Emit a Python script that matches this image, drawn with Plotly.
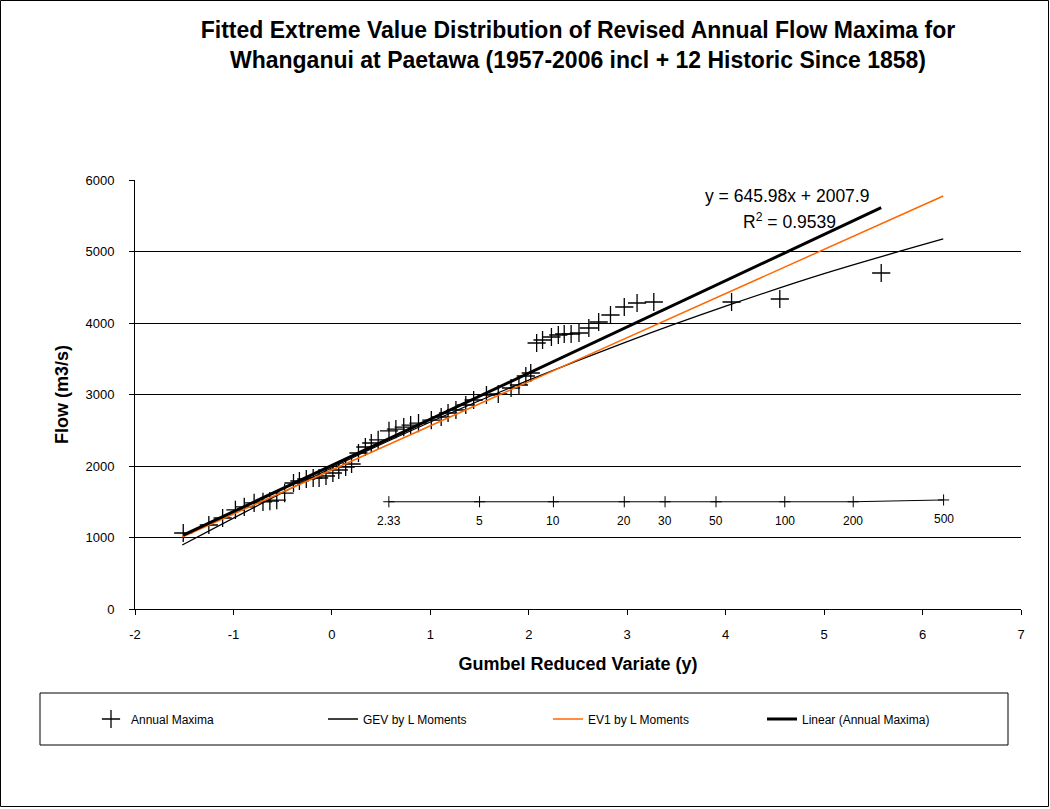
import math
import plotly.graph_objects as go

# ---- Data ----
# Annual maxima: Gumbel reduced variate and flow (m3/s)
maxima_y = [-1.51, -1.25, -1.11, -0.98, -0.89, -0.79, -0.70, -0.63, -0.56, -0.48,
            -0.39, -0.33, -0.26, -0.19, -0.13, -0.06, 0.01, 0.07, 0.14, 0.20,
            0.27, 0.34, 0.40, 0.47, 0.58, 0.65, 0.73, 0.80, 0.88, 1.01,
            1.11, 1.18, 1.26, 1.36, 1.44, 1.57, 1.69, 1.82, 1.90, 1.97,
            2.02, 2.08, 2.14, 2.23, 2.30, 2.36, 2.43, 2.51, 2.61, 2.71,
            2.83, 2.97, 3.10, 3.27, 4.06, 4.55, 5.58]
maxima_q = [1063, 1175, 1273, 1385, 1427, 1483, 1497, 1510, 1524, 1622,
            1762, 1790, 1818, 1832, 1832, 1860, 1902, 1944, 1986, 2028,
            2182, 2266, 2322, 2364, 2490, 2517, 2545, 2573, 2601, 2643,
            2685, 2741, 2783, 2853, 2923, 2993, 3007, 3091, 3133, 3259,
            3301, 3720, 3762, 3804, 3832, 3846, 3846, 3860, 3930, 4014,
            4112, 4224, 4280, 4294, 4294, 4336, 4699]

# GEV by L Moments (curve)
gev_y = [-1.52, 0.0, 1.0, 2.0, 3.0, 4.0, 5.0, 6.21]
gev_q = [895, 1975, 2615, 3200, 3740, 4235, 4690, 5175]

# EV1 by L Moments (straight line)
ev1_y = [-1.52, 6.21]
ev1_q = [1007, 5776]

# Linear trendline (Annual Maxima)
trend_slope = 645.98
trend_intercept = 2007.9

# Return period scale
return_periods = [2.33, 5, 10, 20, 30, 50, 100, 200, 500]
return_labels = ["2.33", "5", "10", "20", "30", "50", "100", "200", "500"]
return_level = [1500, 1500, 1500, 1500, 1500, 1500, 1500, 1500, 1525]

x_ticks = [-2, -1, 0, 1, 2, 3, 4, 5, 6, 7]
x_tick_labels = ["-2", "-1", "0", "1", "2", "3", "4", "5", "6", "7"]
y_ticks = [0, 1000, 2000, 3000, 4000, 5000, 6000]
y_tick_labels = ["0", "1000", "2000", "3000", "4000", "5000", "6000"]

FONT = "Liberation Sans, Arial, sans-serif"

# plot-area geometry helpers (pixels)
L, R, T, B = 135, 29, 180, 200
PW, PH = 1050 - L - R, 809 - T - B


def px(xp):
    return (xp - L) / PW


def py(yp):
    return (T + PH - yp) / PH


trend_x = [min(maxima_y), max(maxima_y)]
trend_q = [trend_slope * v + trend_intercept for v in trend_x]
rp_x = [-math.log(-math.log(1 - 1 / t)) for t in return_periods]

fig = go.Figure()
fig.add_trace(go.Scatter(
    x=maxima_y, y=maxima_q, mode="markers", name="Annual Maxima", legend="legend",
    marker=dict(symbol="cross-thin-open", size=13, color="black",
                line=dict(color="black", width=1.3))))
fig.add_trace(go.Scatter(
    x=gev_y, y=gev_q, mode="lines", name="GEV by L Moments", legend="legend2",
    line=dict(color="black", width=1.3, shape="spline")))
fig.add_trace(go.Scatter(
    x=ev1_y, y=ev1_q, mode="lines", name="EV1 by L Moments", legend="legend3",
    line=dict(color="#FF6600", width=1.5)))
fig.add_trace(go.Scatter(
    x=trend_x, y=trend_q, mode="lines", name="Linear (Annual Maxima)", legend="legend4",
    line=dict(color="black", width=3)))
fig.add_trace(go.Scatter(
    x=rp_x, y=return_level, mode="lines+markers", showlegend=False,
    line=dict(color="black", width=1),
    marker=dict(symbol="cross-thin-open", size=8,
                line=dict(color="black", width=1))))

for xv, yv, lab in zip(rp_x, return_level, return_labels):
    fig.add_annotation(x=xv, y=yv, text=lab, showarrow=False, yshift=-19,
                       font=dict(family=FONT, size=12, color="black"))

fig.add_annotation(x=px(787), y=py(196), xref="paper", yref="paper",
                   xanchor="center", yanchor="middle",
                   text="y = 645.98x + 2007.9", showarrow=False,
                   font=dict(family=FONT, size=17.5, color="black"))
fig.add_annotation(x=px(789), y=py(221), xref="paper", yref="paper",
                   xanchor="center", yanchor="middle",
                   text="R<sup>2</sup> = 0.9539", showarrow=False,
                   font=dict(family=FONT, size=17.5, color="black"))

# outer chart border
fig.add_shape(type="rect", xref="paper", yref="paper",
              x0=px(0.5), x1=px(1048.5), y0=py(806.5), y1=py(0.5),
              line=dict(color="black", width=1), layer="below")
# legend box
fig.add_shape(type="rect", xref="paper", yref="paper",
              x0=px(40), x1=px(1008), y0=py(745), y1=py(693),
              line=dict(color="black", width=1), layer="below")

leg_common = dict(orientation="h", xanchor="left", y=py(719), yanchor="middle",
                  font=dict(family=FONT, size=12, color="black"),
                  bgcolor="rgba(0,0,0,0)")

fig.update_layout(
    width=1050, height=809,
    margin=dict(l=L, r=R, t=T, b=B),
    paper_bgcolor="white", plot_bgcolor="white",
    font=dict(family=FONT, size=13, color="black"),
    title=dict(text="Fitted Extreme Value Distribution of Revised Annual Flow Maxima for<br>"
                    "Whanganui at Paetawa (1957-2006 incl + 12 Historic Since 1858)",
               x=0.5, xref="paper", y=0.953, yanchor="middle",
               font=dict(family=FONT, size=23, color="black", weight="bold")),
    xaxis=dict(range=[-2, 7], tickvals=x_ticks, ticktext=x_tick_labels,
               showgrid=False, zeroline=False,
               showline=True, linecolor="black", linewidth=1,
               ticks="outside", ticklen=5, tickcolor="black",
               ticklabelstandoff=8, tickfont=dict(size=13),
               title=dict(text="<b>Gumbel Reduced Variate (y)</b>", standoff=16,
                          font=dict(size=18))),
    yaxis=dict(range=[0, 6000], tickvals=y_ticks, ticktext=y_tick_labels,
               showgrid=True, gridcolor="black",
               gridwidth=1, zeroline=False, showline=True, linecolor="black",
               linewidth=1, ticks="outside", ticklen=5, tickcolor="black",
               ticklabelstandoff=12, tickfont=dict(size=13),
               title=dict(text="<b>Flow (m3/s)</b>", standoff=12,
                          font=dict(size=18))),
    legend=dict(x=px(91), **leg_common),
    legend2=dict(x=px(323), **leg_common),
    legend3=dict(x=px(548), **leg_common),
    legend4=dict(x=px(762), **leg_common),
)

fig.write_html("out.html", config={"displayModeBar": False},
               post_script="document.body.style.margin='0';")
